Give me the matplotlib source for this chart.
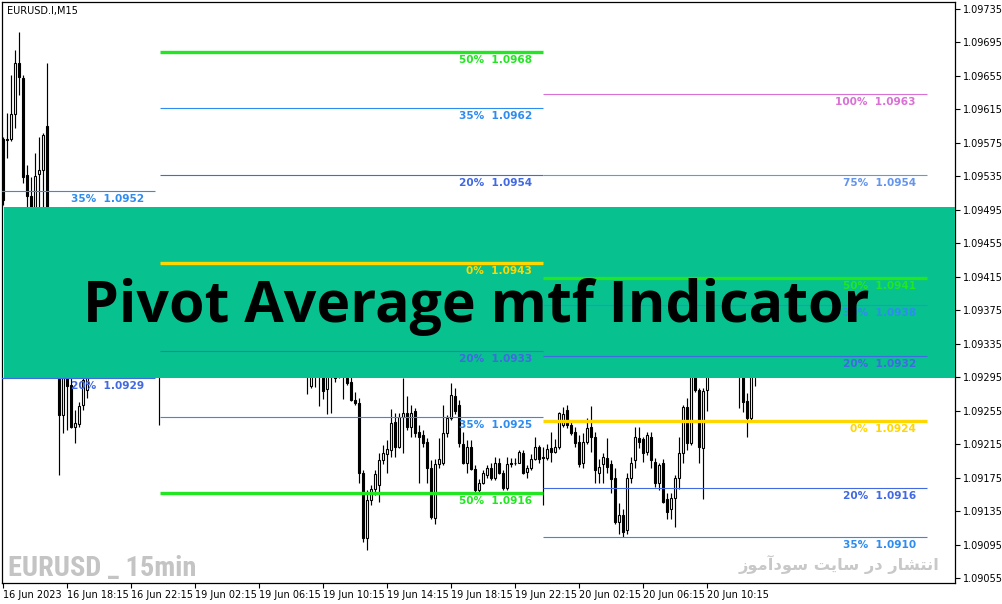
import matplotlib
matplotlib.use("Agg")
import matplotlib.pyplot as plt
from matplotlib.patches import Rectangle
from matplotlib import font_manager as fm

# ---------------- data (EURUSD M15, prices) ----------------
opens = [
    1.09580, 1.09579, 1.09580, 1.09610, 1.09671, 1.09653, 1.09537, 1.09511, 1.09459, 1.09538,
    1.09543, 1.09595, 1.09459, 1.09399, 1.09328, 1.09250, 1.09304, 1.09286, 1.09236, 1.09239,
    1.09262, 1.09280, 1.09310, 1.09335, 1.09360, 1.09390, 1.09378, 1.09395, 1.09415, 1.09400,
    1.09380, 1.09390, 1.09376, 1.09360, 1.09372, 1.09366, 1.09352, 1.09346, 1.09340, 1.09328,
    1.09315, 1.09338, 1.09358, 1.09372, 1.09390, 1.09402, 1.09395, 1.09412, 1.09430, 1.09422,
    1.09435, 1.09455, 1.09442, 1.09430, 1.09418, 1.09428, 1.09445, 1.09438, 1.09422, 1.09410,
    1.09404, 1.09416, 1.09402, 1.09386, 1.09378, 1.09390, 1.09378, 1.09360, 1.09372, 1.09358,
    1.09345, 1.09352, 1.09342, 1.09330, 1.09322, 1.09310, 1.09302, 1.09284, 1.09301, 1.09308,
    1.09301, 1.09281, 1.09301, 1.09296, 1.09298, 1.09305, 1.09301, 1.09289, 1.09268, 1.09264,
    1.09181, 1.09103, 1.09148, 1.09161, 1.09166, 1.09196, 1.09203, 1.09208, 1.09241, 1.09211,
    1.09247, 1.09252, 1.09235, 1.09254, 1.09229, 1.09226, 1.09217, 1.09187, 1.09127, 1.09191,
    1.09192, 1.09228, 1.09246, 1.09272, 1.09262, 1.09215, 1.09192, 1.09212, 1.09185, 1.09160,
    1.09169, 1.09178, 1.09187, 1.09174, 1.09192, 1.09181, 1.09162, 1.09192, 1.09193, 1.09193,
    1.09204, 1.09182, 1.09186, 1.09197, 1.09211, 1.09199, 1.09198, 1.09210, 1.09205, 1.09211,
    1.09238, 1.09256, 1.09238, 1.09229, 1.09217, 1.09192, 1.09217, 1.09235, 1.09223, 1.09181,
    1.09191, 1.09198, 1.09191, 1.09174, 1.09122, 1.09130, 1.09112, 1.09175, 1.09196, 1.09222,
    1.09221, 1.09205, 1.09224, 1.09194, 1.09169, 1.09192, 1.09149, 1.09137, 1.09151, 1.09174,
    1.09204, 1.09259, 1.09216, 1.09304, 1.09280, 1.09210, 1.09280, 1.09304, 1.09322, 1.09338,
    1.09322, 1.09332, 1.09348, 1.09342, 1.09325, 1.09310, 1.09266, 1.09246, 1.09298,
]
highs = [
    1.09582, 1.09611, 1.09656, 1.09686, 1.09707, 1.09656, 1.09549, 1.09534, 1.09563, 1.09582,
    1.09587, 1.09671, 1.09477, 1.09411, 1.09340, 1.09310, 1.09316, 1.09298, 1.09256, 1.09265,
    1.09298, 1.09328, 1.09340, 1.09372, 1.09398, 1.09412, 1.09400, 1.09425, 1.09432, 1.09418,
    1.09398, 1.09408, 1.09395, 1.09380, 1.09390, 1.09380, 1.09370, 1.09362, 1.09352, 1.09350,
    1.09345, 1.09365, 1.09380, 1.09398, 1.09412, 1.09418, 1.09420, 1.09438, 1.09448, 1.09440,
    1.09462, 1.09470, 1.09455, 1.09446, 1.09436, 1.09450, 1.09466, 1.09450, 1.09435, 1.09428,
    1.09422, 1.09430, 1.09412, 1.09402, 1.09396, 1.09405, 1.09388, 1.09378, 1.09386, 1.09372,
    1.09362, 1.09368, 1.09356, 1.09342, 1.09335, 1.09328, 1.09322, 1.09310, 1.09318, 1.09322,
    1.09308, 1.09306, 1.09318, 1.09310, 1.09316, 1.09320, 1.09314, 1.09298, 1.09277, 1.09270,
    1.09184, 1.09160, 1.09166, 1.09184, 1.09204, 1.09214, 1.09220, 1.09257, 1.09252, 1.09252,
    1.09294, 1.09272, 1.09262, 1.09258, 1.09238, 1.09232, 1.09222, 1.09196, 1.09197, 1.09222,
    1.09262, 1.09250, 1.09288, 1.09282, 1.09268, 1.09229, 1.09220, 1.09220, 1.09190, 1.09173,
    1.09184, 1.09190, 1.09193, 1.09199, 1.09198, 1.09184, 1.09200, 1.09198, 1.09198, 1.09208,
    1.09208, 1.09190, 1.09203, 1.09223, 1.09214, 1.09211, 1.09215, 1.09230, 1.09221, 1.09253,
    1.09259, 1.09262, 1.09241, 1.09235, 1.09226, 1.09228, 1.09246, 1.09260, 1.09229, 1.09197,
    1.09204, 1.09222, 1.09196, 1.09186, 1.09145, 1.09137, 1.09180, 1.09199, 1.09236, 1.09235,
    1.09224, 1.09230, 1.09229, 1.09198, 1.09193, 1.09197, 1.09156, 1.09156, 1.09178, 1.09224,
    1.09262, 1.09270, 1.09322, 1.09322, 1.09282, 1.09282, 1.09316, 1.09330, 1.09345, 1.09350,
    1.09340, 1.09355, 1.09362, 1.09352, 1.09338, 1.09325, 1.09276, 1.09310, 1.09312,
]
lows = [
    1.09501, 1.09557, 1.09577, 1.09593, 1.09632, 1.09527, 1.09489, 1.09447, 1.09447, 1.09471,
    1.09483, 1.09447, 1.09388, 1.09316, 1.09178, 1.09228, 1.09232, 1.09234, 1.09216, 1.09236,
    1.09256, 1.09270, 1.09302, 1.09325, 1.09348, 1.09370, 1.09362, 1.09385, 1.09392, 1.09372,
    1.09362, 1.09370, 1.09352, 1.09345, 1.09362, 1.09345, 1.09335, 1.09330, 1.09322, 1.09238,
    1.09305, 1.09330, 1.09345, 1.09362, 1.09378, 1.09385, 1.09388, 1.09402, 1.09415, 1.09410,
    1.09428, 1.09436, 1.09425, 1.09412, 1.09410, 1.09420, 1.09432, 1.09418, 1.09405, 1.09396,
    1.09392, 1.09398, 1.09380, 1.09370, 1.09362, 1.09372, 1.09352, 1.09350, 1.09352, 1.09340,
    1.09336, 1.09338, 1.09325, 1.09315, 1.09304, 1.09296, 1.09275, 1.09282, 1.09283, 1.09260,
    1.09269, 1.09251, 1.09252, 1.09289, 1.09294, 1.09269, 1.09286, 1.09266, 1.09262, 1.09169,
    1.09098, 1.09089, 1.09142, 1.09154, 1.09146, 1.09191, 1.09180, 1.09199, 1.09199, 1.09210,
    1.09204, 1.09232, 1.09223, 1.09223, 1.09168, 1.09211, 1.09168, 1.09126, 1.09120, 1.09186,
    1.09190, 1.09224, 1.09244, 1.09251, 1.09212, 1.09191, 1.09180, 1.09184, 1.09157, 1.09157,
    1.09167, 1.09175, 1.09172, 1.09172, 1.09179, 1.09160, 1.09160, 1.09188, 1.09190, 1.09192,
    1.09179, 1.09174, 1.09184, 1.09196, 1.09193, 1.09142, 1.09196, 1.09194, 1.09204, 1.09209,
    1.09235, 1.09234, 1.09226, 1.09211, 1.09188, 1.09187, 1.09215, 1.09206, 1.09168, 1.09168,
    1.09168, 1.09181, 1.09156, 1.09120, 1.09108, 1.09104, 1.09108, 1.09169, 1.09186, 1.09210,
    1.09194, 1.09202, 1.09186, 1.09164, 1.09160, 1.09145, 1.09126, 1.09125, 1.09116, 1.09161,
    1.09193, 1.09208, 1.09214, 1.09277, 1.09193, 1.09149, 1.09254, 1.09298, 1.09312, 1.09315,
    1.09305, 1.09325, 1.09335, 1.09315, 1.09258, 1.09253, 1.09224, 1.09244, 1.09284,
]
closes = [
    1.09507, 1.09580, 1.09610, 1.09671, 1.09654, 1.09534, 1.09511, 1.09459, 1.09536, 1.09543,
    1.09585, 1.09459, 1.09399, 1.09328, 1.09250, 1.09304, 1.09284, 1.09235, 1.09240, 1.09260,
    1.09292, 1.09310, 1.09335, 1.09360, 1.09390, 1.09378, 1.09395, 1.09415, 1.09400, 1.09380,
    1.09390, 1.09376, 1.09360, 1.09372, 1.09366, 1.09352, 1.09346, 1.09340, 1.09330, 1.09315,
    1.09338, 1.09358, 1.09372, 1.09390, 1.09402, 1.09395, 1.09412, 1.09430, 1.09422, 1.09435,
    1.09455, 1.09442, 1.09430, 1.09418, 1.09428, 1.09445, 1.09438, 1.09422, 1.09410, 1.09404,
    1.09416, 1.09402, 1.09386, 1.09378, 1.09390, 1.09378, 1.09360, 1.09372, 1.09358, 1.09345,
    1.09352, 1.09342, 1.09330, 1.09322, 1.09310, 1.09302, 1.09300, 1.09301, 1.09308, 1.09298,
    1.09278, 1.09301, 1.09296, 1.09294, 1.09305, 1.09301, 1.09288, 1.09268, 1.09264, 1.09181,
    1.09103, 1.09148, 1.09161, 1.09179, 1.09196, 1.09204, 1.09209, 1.09240, 1.09211, 1.09247,
    1.09252, 1.09235, 1.09252, 1.09228, 1.09224, 1.09216, 1.09186, 1.09128, 1.09191, 1.09197,
    1.09228, 1.09246, 1.09274, 1.09254, 1.09216, 1.09192, 1.09212, 1.09185, 1.09160, 1.09168,
    1.09180, 1.09186, 1.09174, 1.09193, 1.09181, 1.09162, 1.09191, 1.09191, 1.09192, 1.09205,
    1.09181, 1.09186, 1.09197, 1.09211, 1.09197, 1.09198, 1.09209, 1.09206, 1.09211, 1.09252,
    1.09251, 1.09238, 1.09228, 1.09216, 1.09191, 1.09218, 1.09234, 1.09223, 1.09184, 1.09188,
    1.09199, 1.09188, 1.09173, 1.09122, 1.09130, 1.09110, 1.09175, 1.09193, 1.09223, 1.09218,
    1.09204, 1.09226, 1.09196, 1.09169, 1.09190, 1.09146, 1.09134, 1.09151, 1.09174, 1.09204,
    1.09259, 1.09216, 1.09304, 1.09280, 1.09211, 1.09278, 1.09304, 1.09322, 1.09338, 1.09322,
    1.09332, 1.09348, 1.09342, 1.09325, 1.09310, 1.09265, 1.09246, 1.09298, 1.09302,
]

# pivot-average levels: (segment index, percent label, price)
seg_start = [-1.0, 39.2, 134.9]
seg_end = [37.9, 134.9, 230.9]
level_seg = [0, 0, 1, 1, 1, 1, 1, 1, 1, 2, 2, 2, 2, 2, 2, 2, 2]
level_pct = ['35%', '20%', '50%', '35%', '20%', '0%', '20%', '35%', '50%',
             '100%', '75%', '50%', '35%', '20%', '0%', '20%', '35%']
level_val = [1.09517, 1.09294, 1.09684, 1.09617, 1.09537, 1.09431, 1.09326, 1.09247, 1.09157,
             1.09634, 1.09537, 1.09414, 1.09381, 1.09320, 1.09243, 1.09163, 1.09104]
level_kind = ['d35', 'd20', 'p50', 'd35', 'd20', 'p0', 'd20', 'd35', 'p50',
              'p100', 'p75', 'p50', 'd35', 'd20', 'p0', 'd20', 'd35']

xtick_bars = [0, 16, 32, 48, 64, 80, 96, 112, 128, 144, 160, 176]
xtick_labels = ['16 Jun 2023', '16 Jun 18:15', '16 Jun 22:15', '19 Jun 02:15', '19 Jun 06:15',
                '19 Jun 10:15', '19 Jun 14:15', '19 Jun 18:15', '19 Jun 22:15', '20 Jun 02:15',
                '20 Jun 06:15', '20 Jun 10:15']
ytick_vals = [1.09735, 1.09695, 1.09655, 1.09615, 1.09575, 1.09535, 1.09495, 1.09455, 1.09415,
              1.09375, 1.09335, 1.09295, 1.09255, 1.09215, 1.09175, 1.09135, 1.09095, 1.09055]

assert len(opens) == len(highs) == len(lows) == len(closes)

# ---------------- styling ----------------
kind_color = {'d35': '#2e8cf0', 'd20': '#4169e1', 'p50': '#22e622', 'p0': '#ffd700',
              'p100': '#da70d6', 'p75': '#6495ed'}
kind_width = {'d35': 0.8, 'd20': 0.8, 'p50': 2.4, 'p0': 2.4, 'p100': 0.8, 'p75': 0.8}


def _is_bold(w):
    if isinstance(w, (int, float)):
        return w >= 700
    return str(w).lower() in ('bold', 'heavy', 'black', 'extra bold', 'ultrabold', 'demibold')


narrow_file = None
for f in fm.fontManager.ttflist:
    nm = f.name
    cond = ('Narrow' in nm) or ('Condensed' in nm) or (str(f.stretch) in ('condensed', 'semi-condensed', 'extra-condensed'))
    if cond and _is_bold(f.weight) and f.style == 'normal':
        narrow_file = f.fname
        if 'Liberation' in nm:
            break

W, H = 1002, 604
fig = plt.figure(figsize=(W / 100, H / 100), dpi=100)
fig.patch.set_facecolor('white')
ax = fig.add_axes([2 / W, 21 / H, 953 / W, 581 / H])
ax.set_facecolor('white')
ax.set_xlim(-0.33, 237.9)
ax.set_ylim(1.090490, 1.097434)

# candles
xs = list(range(len(opens)))
ax.vlines(xs, lows, highs, color='black', linewidth=0.85, zorder=2)
bottoms = [min(o, c) for o, c in zip(opens, closes)]
heights = [max(abs(c - o), 0.000006) for o, c in zip(opens, closes)]
faces = ['white' if c >= o else 'black' for o, c in zip(opens, closes)]
ax.bar(xs, heights, bottom=bottoms, width=0.5, color=faces, edgecolor='black',
       linewidth=0.8, zorder=3)

# banner box (figure coordinates)
ax.add_patch(Rectangle((4 / W, (H - 378) / H), 951 / W, 171 / H, transform=fig.transFigure,
                       facecolor='#07c18f', edgecolor='none', zorder=4, clip_on=False))

# levels + labels
for s, pct, val, kind in zip(level_seg, level_pct, level_val, level_kind):
    col = kind_color[kind]
    ax.hlines(val, seg_start[s], seg_end[s], color=col, linewidth=kind_width[kind], zorder=5)
    ax.annotate(f"{pct}  {val:.4f}", xy=(seg_end[s], val), xytext=(-11, -8),
                textcoords='offset pixels', ha='right', va='center', color=col,
                fontsize=7.6, fontweight='bold', family='DejaVu Sans', zorder=6,
                annotation_clip=False)

# axes / ticks
for sp in ax.spines.values():
    sp.set_color('black')
    sp.set_linewidth(0.9)
ax.yaxis.tick_right()
ax.set_yticks(ytick_vals)
ax.set_yticklabels([f"{v:.5f}" for v in ytick_vals])
ax.set_xticks(xtick_bars)
ax.set_xticklabels(xtick_labels, ha='left')
ax.tick_params(axis='y', direction='out', length=3.5, width=0.8, pad=2, labelsize=7,
               colors='black')
ax.tick_params(axis='x', direction='out', length=3.5, width=0.8, pad=1.5, labelsize=7,
               colors='black')

# texts
fig.text(7 / W, 1 - 11 / H, 'EURUSD.I,M15', fontsize=7, va='center', ha='left', color='black')

big = fig.text(476 / W, 1 - 322 / H, 'Pivot Average mtf Indicator', ha='center', va='baseline',
               fontsize=42, family=['Open Sans', 'DejaVu Sans'], fontweight='bold',
               color='black', zorder=10)
if narrow_file:
    wm = fig.text(8 / W, 1 - 576 / H, 'EURUSD _ 15min', ha='left', va='baseline',
                  fontproperties=fm.FontProperties(fname=narrow_file, size=22),
                  color='#c4c4c4', zorder=10)
    wm_target = 189
else:
    wm = fig.text(8 / W, 1 - 576 / H, 'EURUSD _ 15min', ha='left', va='baseline', fontsize=21,
                  family='DejaVu Sans', fontweight='bold', color='#c4c4c4', zorder=10)
    wm_target = 205
fa = fig.text(940 / W, 1 - 564 / H, 'ﺯﻮﻣﺁﺩﻮﺳ ﺖﯾﺎﺳ ﺭﺩ ﺭﺎﺸﺘﻧﺍ', ha='right', va='center',
              fontsize=15, family=['DejaVu Sans', 'Noto Sans'], fontweight='bold',
              color='#c8c8c8', zorder=10)

fig.canvas.draw()
r = fig.canvas.get_renderer()
for t, target in ((big, 787), (wm, wm_target), (fa, 200)):
    w = t.get_window_extent(r).width
    if w > 0:
        t.set_fontsize(t.get_fontsize() * target / w)

fig.savefig('out.png', dpi=100, facecolor='white')
